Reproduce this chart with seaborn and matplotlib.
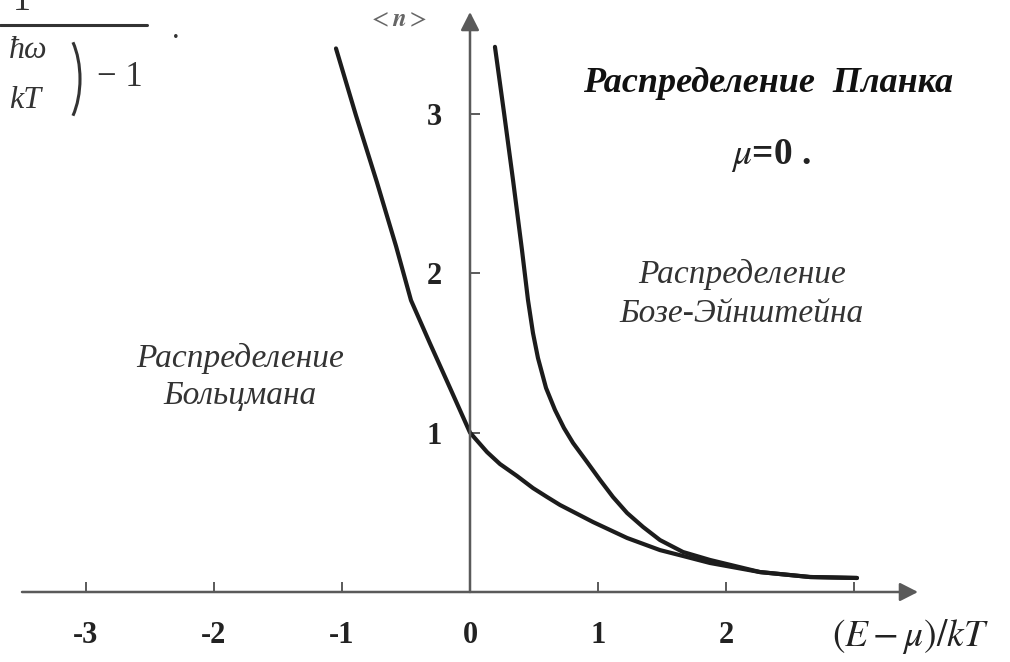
import matplotlib
matplotlib.use("Agg")
import matplotlib.pyplot as plt
from matplotlib.lines import Line2D
from matplotlib.patches import Arc
import pandas as pd
import seaborn as sns

# Mean occupation number <n> versus (E - mu)/kT
boltzmann_x = [-1.047, -0.891, -0.727, -0.578, -0.461, -0.313, -0.156, 0.0, 0.133,
               0.234, 0.367, 0.492, 0.602, 0.703, 0.961, 1.227, 1.484, 1.664, 1.875,
               2.266, 2.656, 3.023]
boltzmann_n = [3.41, 2.99, 2.57, 2.17, 1.83, 1.56, 1.28, 1.0, 0.878,
               0.803, 0.728, 0.652, 0.596, 0.546, 0.439, 0.339, 0.263, 0.226, 0.182,
               0.125, 0.094, 0.088]

bose_x = [0.195, 0.266, 0.336, 0.406, 0.453, 0.492, 0.531, 0.594, 0.664, 0.734,
          0.805, 0.914, 1.016, 1.117, 1.227, 1.352, 1.484, 1.664, 1.875, 2.266,
          2.656, 3.023]
bose_n = [3.42, 3.005, 2.585, 2.146, 1.832, 1.625, 1.468, 1.28, 1.142, 1.029,
          0.935, 0.816, 0.703, 0.596, 0.496, 0.408, 0.326, 0.251, 0.201, 0.125,
          0.094, 0.088]

x_ticks = [-3, -2, -1, 0, 1, 2, 3]
x_tick_labels = ["-3", "-2", "-1", "0", "1", "2", ""]
y_ticks = [1, 2, 3]
y_tick_labels = ["1", "2", "3"]

df = pd.concat([
    pd.DataFrame({"x": boltzmann_x, "n": boltzmann_n, "curve": "Больцман"}),
    pd.DataFrame({"x": bose_x, "n": bose_n, "curve": "Бозе-Эйнштейн"}),
])

sns.set_style("white")
plt.rcParams["font.family"] = ["Liberation Serif", "DejaVu Serif"]
plt.rcParams["mathtext.fontset"] = "stix"

W, H = 1010, 662
fig = plt.figure(figsize=(W / 100, H / 100), dpi=100)
ax = fig.add_axes([0, 0, 1, 1])

# pixel scale of one unit on each axis and the origin location
ux, uy = 128.0, 159.4
ox, oy = 470.0, 592.0
ax.set_xlim(-ox / ux, (W - ox) / ux)
ax.set_ylim(-(H - oy) / uy, oy / uy)

curve_color = "#1c1c1c"
sns.lineplot(data=df, x="x", y="n", hue="curve", units="curve", estimator=None,
             sort=False, palette={"Больцман": curve_color, "Бозе-Эйнштейн": curve_color},
             linewidth=3.0, legend=False, ax=ax)
for ln in ax.get_lines():
    ln.set_solid_joinstyle("round")
    ln.set_solid_capstyle("round")
ax.set_xlabel("")
ax.set_ylabel("")

# axes drawn through the origin, ending in arrowheads
for s in ax.spines.values():
    s.set_visible(False)
ax.spines["bottom"].set_position(("data", 0))
ax.spines["left"].set_position(("data", 0))
axis_color = "#5a5a5a"
arrow = dict(arrowstyle="-|>,head_length=0.55,head_width=0.28", lw=1.8,
             color=axis_color, mutation_scale=20, shrinkA=0, shrinkB=0)
ax.annotate("", xy=(448 / ux, 0), xytext=(-448 / ux, 0), arrowprops=arrow)
ax.annotate("", xy=(0, 580 / uy), xytext=(0, 0), arrowprops=arrow)

ax.set_xticks(x_ticks, x_tick_labels)
ax.set_yticks(y_ticks, y_tick_labels)
ax.tick_params(axis="x", direction="in", length=7, width=1.4, color=axis_color,
               bottom=True, top=False, pad=21, labelsize=22, labelcolor="#222222")
ax.tick_params(axis="y", direction="in", length=7, width=1.4, color=axis_color,
               left=True, right=False, pad=20, labelsize=22, labelcolor="#222222")
for lab in ax.get_xticklabels() + ax.get_yticklabels():
    lab.set_fontweight("bold")


def fx(px):
    return px / W


def fy(py):
    return 1 - py / H


fig.text(fx(910), fy(636), r"$(E-\mu)/kT$", fontsize=27, ha="center", va="center",
         color="#222222")
fig.text(fx(398), fy(20), r"$<\boldsymbol{n}>$", fontsize=18, ha="center", va="center",
         color="#666666")

fig.text(fx(768), fy(84), "Распределение  Планка", fontsize=26, fontweight="bold",
         fontstyle="italic", ha="center", va="center", color="#111111")
fig.text(fx(771), fy(156), r"$\mu$" + "=0 .", fontsize=27, fontweight="bold",
         ha="center", va="center", color="#222222")

fig.text(fx(742), fy(294), "Распределение\nБозе-Эйнштейна", fontsize=24,
         fontstyle="italic", ha="center", va="center", color="#333333",
         linespacing=1.35)
fig.text(fx(240), fy(377), "Распределение\nБольцмана", fontsize=24,
         fontstyle="italic", ha="center", va="center", color="#333333",
         linespacing=1.3)

# fragment of the Planck formula at the upper-left corner
frag = "#333333"
fig.add_artist(Line2D([0, fx(147)], [fy(25), fy(25)], transform=fig.transFigure,
                      color=frag, lw=2.2))
fig.text(fx(22), fy(10), "1", fontsize=26, ha="center", va="baseline", color=frag)
fig.text(fx(28), fy(50), "ħω", fontsize=23, fontstyle="italic", ha="center",
         va="center", color=frag)
fig.text(fx(25), fy(100), "kT", fontsize=23, fontstyle="italic", ha="center",
         va="center", color=frag)
fig.text(fx(120), fy(78), "− 1", fontsize=25, ha="center", va="center", color=frag)
fig.text(fx(176), fy(30), ".", fontsize=22, ha="center", va="center", color=frag)

oax = fig.add_axes([0, 0, 1, 1], zorder=3)
oax.set_xlim(0, W)
oax.set_ylim(H, 0)
oax.axis("off")
oax.add_patch(Arc((50, 79), width=60, height=114, theta1=-58, theta2=58,
                  color=frag, lw=2.2))

fig.savefig("out.png", dpi=100)
